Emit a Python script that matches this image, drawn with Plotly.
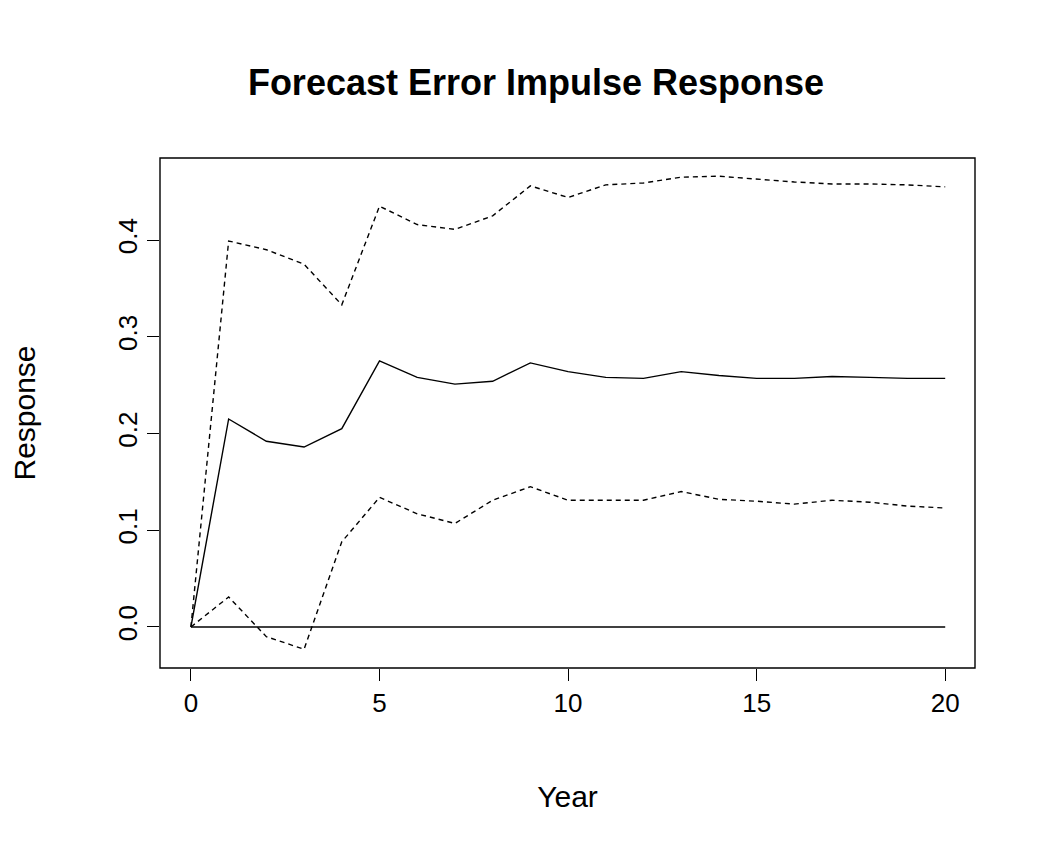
import plotly.graph_objects as go

years = list(range(21))
response = [0, 0.215, 0.192, 0.186, 0.205, 0.275, 0.258, 0.251, 0.254, 0.273, 0.264,
            0.258, 0.257, 0.264, 0.260, 0.257, 0.257, 0.259, 0.258, 0.257, 0.257]
upper = [0, 0.399, 0.390, 0.375, 0.333, 0.435, 0.416, 0.411, 0.425, 0.456, 0.444,
         0.457, 0.459, 0.465, 0.466, 0.463, 0.460, 0.458, 0.458, 0.457, 0.455]
lower = [0, 0.031, -0.010, -0.023, 0.088, 0.134, 0.117, 0.107, 0.131, 0.145, 0.131,
         0.131, 0.131, 0.140, 0.132, 0.130, 0.127, 0.131, 0.129, 0.125, 0.123]
zero = [0] * 21

fig = go.Figure()
ln = dict(color="black", width=1.4)
fig.add_trace(go.Scatter(x=years, y=response, mode="lines", line=ln))
fig.add_trace(go.Scatter(x=years, y=upper, mode="lines", line=dict(ln, dash="5px,4px")))
fig.add_trace(go.Scatter(x=years, y=lower, mode="lines", line=dict(ln, dash="5px,4px")))
fig.add_trace(go.Scatter(x=years, y=zero, mode="lines", line=ln))

font = dict(family="Liberation Sans, Arial", size=25, color="black")
fig.update_layout(
    width=1056, height=864, showlegend=False,
    plot_bgcolor="white", paper_bgcolor="white",
    margin=dict(l=149, r=89, t=150, b=204),
    font=font,
    title=dict(text="<b>Forecast Error Impulse Response</b>", x=0.5, xanchor="center",
               y=1 - 74 / 864, yanchor="middle", font=dict(size=36)),
    xaxis=dict(range=[-0.82, 20.79], tickvals=[0, 5, 10, 15, 20], ticks="outside",
               ticklen=12, tickcolor="black", showgrid=False, zeroline=False,
               tickfont=dict(size=26),
               title=dict(text="Year", standoff=68)),
    yaxis=dict(range=[-0.0424, 0.4848], tickvals=[0, 0.1, 0.2, 0.3, 0.4],
               ticktext=["0.0", "0.1", "0.2", "0.3", "0.4"], tickangle=-90,
               ticks="outside", ticklen=12, tickcolor="black", showgrid=False,
               tickfont=dict(size=26),
               zeroline=False, title=dict(text="Response", standoff=72)),
    shapes=[dict(type="rect", xref="paper", yref="paper", x0=0, x1=1, y0=0, y1=1,
                 line=dict(color="black", width=1.4))],
)
fig.write_html("out.html")
